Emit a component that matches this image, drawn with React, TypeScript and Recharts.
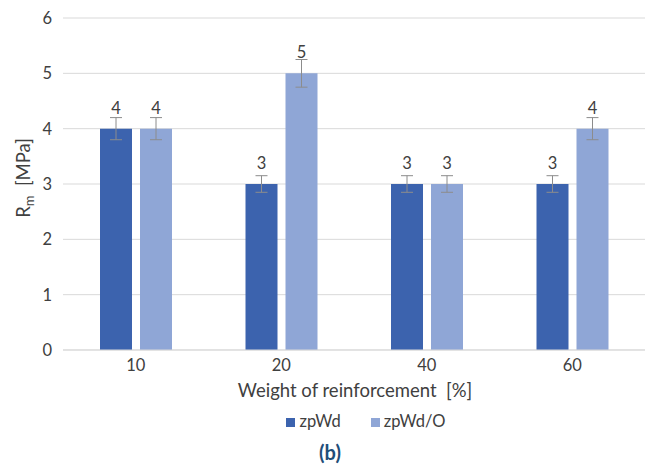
import React from 'react';
import { BarChart, Bar, XAxis, YAxis, CartesianGrid, ErrorBar, LabelList, Legend } from 'recharts';

const categories = ['10', '20', '40', '60'];
const zpWd = [4, 3, 3, 3];
const zpWdO = [4, 5, 3, 4];
const zpWdErr = [0.2, 0.15, 0.15, 0.15];
const zpWdOErr = [0.2, 0.25, 0.15, 0.2];
const yTicks = [0, 1, 2, 3, 4, 5, 6];

const data = categories.map((c, i) => ({
  name: c,
  zpWd: zpWd[i],
  'zpWd/O': zpWdO[i],
  errA: zpWdErr[i],
  errB: zpWdOErr[i],
}));

const FONT = 'Lato, "Open Sans", sans-serif';
const TEXT = '#404040';

const App: React.FC = () => {
  return (
    <div style={{ position: 'absolute', left: 0, top: 0, width: 651, height: 470, fontFamily: FONT, background: '#fff' }}>
      <BarChart
        width={651}
        height={470}
        data={data}
        margin={{ top: 18, right: 6, left: 0, bottom: 70 }}
        barGap={8}
      >
        <CartesianGrid vertical={false} stroke="#d9d9d9" />
        <XAxis
          dataKey="name"
          axisLine={{ stroke: '#d9d9d9' }}
          tickLine={false}
          tickSize={0}
          tickMargin={9}
          height={30}
          tick={{ fontSize: 16.5, fill: TEXT, fontFamily: FONT }}
        />
        <YAxis
          domain={[0, 6]}
          ticks={yTicks}
          width={63}
          axisLine={false}
          tickLine={false}
          tickSize={0}
          tickMargin={11}
          tick={{ fontSize: 16.5, fill: TEXT, fontFamily: FONT }}
        />
        <Legend
          verticalAlign="bottom"
          iconType="square"
          iconSize={9}
          wrapperStyle={{ top: 411, left: 86, width: 590, fontSize: 16.5, fontFamily: FONT }}
          formatter={(value) => <span style={{ color: TEXT, marginRight: 20 }}>{value}</span>}
        />
        <Bar dataKey="zpWd" fill="#3C63AE" barSize={32} isAnimationActive={false}>
          <ErrorBar dataKey="errA" width={6} stroke="#8c8c8c" strokeWidth={1} direction="y" />
          <LabelList dataKey="zpWd" position="top" offset={15} fill={TEXT} fontSize={16.5} fontFamily={FONT} />
        </Bar>
        <Bar dataKey="zpWd/O" fill="#8FA6D6" barSize={32} isAnimationActive={false}>
          <ErrorBar dataKey="errB" width={6} stroke="#8c8c8c" strokeWidth={1} direction="y" />
          <LabelList dataKey="zpWd/O" position="top" offset={15} fill={TEXT} fontSize={16.5} fontFamily={FONT} />
        </Bar>
      </BarChart>
      <svg width={651} height={470} style={{ position: 'absolute', left: 0, top: 0, pointerEvents: 'none' }}>
        <text
          transform="translate(30,178) rotate(-90)"
          textAnchor="middle"
          fontSize={18.5}
          fill={TEXT}
          fontFamily={FONT}
        >
          R<tspan fontSize={13} dy={4}>m</tspan><tspan dy={-4}>{'\u00a0\u00a0[MPa]'}</tspan>
        </text>
        <text x={355} y={397} textAnchor="middle" fontSize={18.5} fill={TEXT} fontFamily={FONT}>
          {'Weight of reinforcement\u00a0\u00a0[%]'}
        </text>
        <text x={330} y={460} textAnchor="middle" fontSize={20} fontWeight="bold" fill="#1F4E79" fontFamily={FONT}>
          (b)
        </text>
      </svg>
    </div>
  );
};

export default App;
